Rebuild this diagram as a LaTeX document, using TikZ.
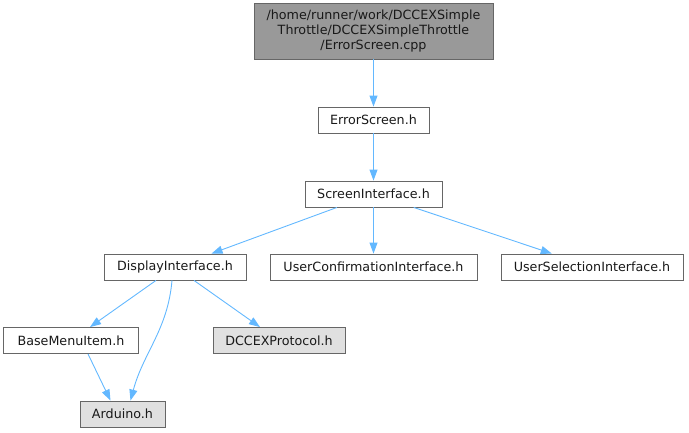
\documentclass[tikz,border=0pt]{standalone}
\usepackage{fontspec}
\setmainfont{DejaVu Sans}
\usepackage{xcolor}
\usetikzlibrary{shapes, arrows.meta, positioning, calc}

\definecolor{edgeblue}{HTML}{63B8FF}
\definecolor{boxline}{HTML}{666666}
\definecolor{rootfill}{HTML}{999999}
\definecolor{extfill}{HTML}{E0E0E0}

\begin{document}
\begin{tikzpicture}[x=1pt, y=-1pt,
  file/.style={draw=boxline, fill=white, font=\fontsize{12.7}{15}\selectfont, text=black!90,
    minimum height=26pt, inner sep=2pt, line width=0.9pt},
  root/.style={file, fill=rootfill, align=center, minimum height=56pt},
  extern/.style={file, fill=extfill},
  dep/.style={draw=edgeblue, line width=0.9pt, -{Triangle[length=11pt, width=8pt]}}]
\useasboundingbox (0,0) rectangle (689,432);

% source file at the top
\node[root, minimum width=239pt] (cpp) at (373.5,31)
  {/home/runner/work/DCCEXSimple\\Throttle/DCCEXSimpleThrottle\\/ErrorScreen.cpp};

% headers
\node[file, minimum width=111pt] (err) at (373.5,120) {ErrorScreen.h};
\node[file, minimum width=137pt] (scr) at (373.5,194) {ScreenInterface.h};
\node[file, minimum width=142pt] (disp) at (175,267) {DisplayInterface.h};
\node[file, minimum width=207pt] (conf) at (373.5,267) {UserConfirmationInterface.h};
\node[file, minimum width=182pt] (sel) at (592,267) {UserSelectionInterface.h};
\node[file, minimum width=135pt] (menu) at (71,340.5) {BaseMenuItem.h};
\node[extern, minimum width=132pt] (proto) at (279,340.5) {DCCEXProtocol.h};
\node[extern, minimum width=85pt] (ard) at (122.5,414) {Arduino.h};

% include edges
\draw[dep] (cpp) -- (err);
\draw[dep] (err) -- (scr);
\draw[dep] (scr) -- (disp);
\draw[dep] (scr) -- (conf);
\draw[dep] (scr) -- (sel);
\draw[dep] (disp) -- (menu);
\draw[dep] (disp) -- (proto);
\draw[dep] ([xshift=-3pt]disp.south) to[out=-95, in=75] ([xshift=8pt]ard.north);
\draw[dep] ([xshift=17pt]menu.south) -- ([xshift=-12pt]ard.north);
\end{tikzpicture}
\end{document}
